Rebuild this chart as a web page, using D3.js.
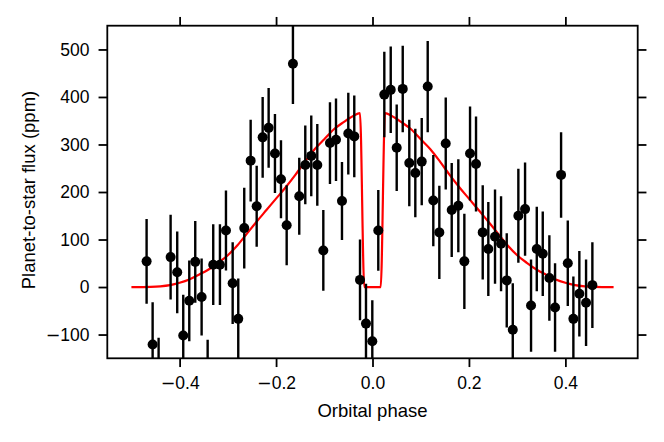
<!DOCTYPE html>
<html>
<head>
<meta charset="utf-8">
<script src="https://cdn.jsdelivr.net/npm/d3@7"></script>
<style>
  body { margin: 0; background: #fff; }
  text { font-family: "Liberation Sans", Arial, sans-serif; }
</style>
</head>
<body>
<svg id="chart" width="664" height="442"></svg>
<script>
var phase = [
  -0.4685, -0.456, -0.4436, -0.4187, -0.405, -0.3925, -0.380, -0.3676, -0.3544, -0.3419,
  -0.3303, -0.3164, -0.3039, -0.290, -0.2784, -0.266, -0.2527, -0.2402, -0.2278, -0.2154,
  -0.2023, -0.1898, -0.178, -0.165, -0.1519, -0.1394, -0.127, -0.1145, -0.102, -0.0882,
  -0.0757, -0.0633, -0.0502, -0.0378, -0.0259, -0.0135, -0.0004, 0.012, 0.0245, 0.0378,
  0.0502, 0.0627, 0.0763, 0.0888, 0.1021, 0.1145, 0.1261, 0.1386, 0.1519, 0.1643,
  0.178, 0.1905, 0.2023, 0.2147, 0.2286, 0.2402, 0.2541, 0.2666, 0.2784, 0.2909,
  0.3025, 0.3164, 0.3288, 0.3407, 0.3531, 0.3668, 0.3786, 0.3911, 0.405, 0.4166,
  0.429, 0.4429, 0.456
];
var flux = [
  54, -121, -197, 63, 31, -102, -29, 53, -21, -196,
  47, 47, 119, 8, -67, 124, 266, 170, 315, 335,
  281, 227, 130, 470, 191, 257, 276, 257, 77, 303,
  310, 181, 323, 317, 15, -77, -114, 119, 405, 415,
  293, 417, 261, 240, 264, 422, 182, 115, 302, 162,
  171, 54, 281, 259, 115, 80, 106, 91, 14, -90,
  150, 164, -39, 80, 70, 19, -43, 236, 50, -67,
  -14, -33, 4
];
var fluxErr = [
  89, 89, 90, 89, 86, 86, 85, 86, 81, 85,
  85, 85, 84, 86, 85, 85, 86, 85, 85, 84,
  83, 82, 84, 85, 81, 83, 85, 86, 85, 86,
  87, 82, 86, 86, 85, 84, 86, 85, 90, 91,
  91, 91, 91, 93, 92, 96, 96, 98, 97, 99,
  98, 100, 99, 100, 99, 99, 99, 100, 99, 98,
  99, 98, 97, 89, 89, 90, 93, 90, 90, 89,
  90, 91, 90
];

// model phase curve
var modelPhase = [
  -0.5, -0.46, -0.44, -0.42, -0.40, -0.38, -0.36, -0.34, -0.32, -0.30,
  -0.28, -0.26, -0.24, -0.22, -0.20, -0.18, -0.16, -0.14, -0.12, -0.10,
  -0.08, -0.06, -0.04, -0.026, -0.017, 0.017, 0.026, 0.04, 0.06, 0.08,
  0.10, 0.12, 0.14, 0.16, 0.18, 0.20, 0.22, 0.24, 0.26, 0.28,
  0.30, 0.32, 0.34, 0.36, 0.38, 0.40, 0.42, 0.44, 0.46, 0.5
];
var modelFlux = [
  0, 0.5, 1.5, 4, 9, 16, 26, 37, 51, 67,
  88, 113, 138, 162, 186, 210, 236, 264, 290, 311,
  332, 347, 360, 366, 0, 0, 366, 360, 347, 332,
  311, 290, 264, 236, 210, 186, 162, 138, 113, 88,
  67, 51, 37, 26, 16, 9, 4, 1.5, 0.5, 0
];

var xTicks = [-0.4, -0.2, 0, 0.2, 0.4];
var yTicks = [-100, 0, 100, 200, 300, 400, 500];

var margin = {top: 25.7, right: 26.3, bottom: 83.7, left: 107.3};
var svg = d3.select('#chart');
var width = +svg.attr('width') - margin.left - margin.right;
var height = +svg.attr('height') - margin.top - margin.bottom;

var x = d3.scaleLinear().domain([-0.55, 0.55]).range([0, width]);
var y = d3.scaleLinear().domain([-150, 550]).range([height, 0]);

var g = svg.append('g')
  .attr('transform', 'translate(' + margin.left + ',' + margin.top + ')');

g.append('clipPath')
  .attr('id', 'plot-clip')
  .append('rect')
  .attr('width', width)
  .attr('height', height);

// matplotlib style minus sign comes from a fallback font
function splitMinus(axisG) {
  axisG.selectAll('.tick text').each(function () {
    var t = d3.select(this), s = t.text();
    if (s.charAt(0) === '\u2212') {
      t.text(null);
      t.append('tspan').style('font-family', '"DejaVu Sans"').text('\u2212');
      t.append('tspan').text(s.slice(1));
    }
  });
}

function styleAxis(axisG) {
  axisG.select('.domain').remove();
  axisG.selectAll('.tick line').attr('stroke', '#000').attr('stroke-width', 1.8);
  axisG.selectAll('.tick text')
    .attr('fill', '#000')
    .style('font-size', '17.5px')
    .style('font-family', '"Liberation Sans", Arial, sans-serif');
}

var tick = 8.75;

var xBottom = g.append('g')
  .attr('transform', 'translate(0,' + height + ')')
  .call(d3.axisBottom(x).tickValues(xTicks).tickFormat(d3.format('.1f'))
    .tickSize(tick).tickPadding(10));
styleAxis(xBottom);
splitMinus(xBottom);

var xTop = g.append('g')
  .call(d3.axisTop(x).tickValues(xTicks).tickFormat('').tickSize(tick));
styleAxis(xTop);

var yLeft = g.append('g')
  .call(d3.axisLeft(y).tickValues(yTicks).tickFormat(d3.format('d'))
    .tickSize(tick).tickPadding(9));
styleAxis(yLeft);
splitMinus(yLeft);

var yRight = g.append('g')
  .attr('transform', 'translate(' + width + ',0)')
  .call(d3.axisRight(y).tickValues(yTicks).tickFormat('').tickSize(tick));
styleAxis(yRight);

var plot = g.append('g').attr('clip-path', 'url(#plot-clip)');

// model
var model = modelPhase.map(function (p, i) { return [p, modelFlux[i]]; });
plot.append('path')
  .datum(model)
  .attr('fill', 'none')
  .attr('stroke', '#ff0000')
  .attr('stroke-width', 2.2)
  .attr('d', d3.line()
    .x(function (d) { return x(d[0]); })
    .y(function (d) { return y(d[1]); })
    .curve(d3.curveMonotoneX));

// error bars
var obs = phase.map(function (p, i) {
  return {phase: p, flux: flux[i], err: fluxErr[i]};
});

plot.selectAll('line.err')
  .data(obs)
  .enter()
  .append('line')
  .attr('class', 'err')
  .attr('x1', function (d) { return x(d.phase); })
  .attr('x2', function (d) { return x(d.phase); })
  .attr('y1', function (d) { return y(d.flux - d.err); })
  .attr('y2', function (d) { return y(d.flux + d.err); })
  .attr('stroke', '#000')
  .attr('stroke-width', 2.4);

plot.selectAll('circle.pt')
  .data(obs)
  .enter()
  .append('circle')
  .attr('class', 'pt')
  .attr('cx', function (d) { return x(d.phase); })
  .attr('cy', function (d) { return y(d.flux); })
  .attr('r', 5)
  .attr('fill', '#000');

// frame
g.append('rect')
  .attr('width', width)
  .attr('height', height)
  .attr('fill', 'none')
  .attr('stroke', '#000')
  .attr('stroke-width', 1.8);

// axis labels
g.append('text')
  .attr('x', width / 2)
  .attr('y', 417.3 - margin.top)
  .attr('text-anchor', 'middle')
  .style('font-size', '18.5px')
  .text('Orbital phase');

g.append('text')
  .attr('transform', 'translate(' + (35.3 - margin.left) + ',' + (height / 2 - 2) + ') rotate(-90)')
  .attr('text-anchor', 'middle')
  .style('font-size', '18.5px')
  .text('Planet-to-star flux (ppm)');
</script>
</body>
</html>
